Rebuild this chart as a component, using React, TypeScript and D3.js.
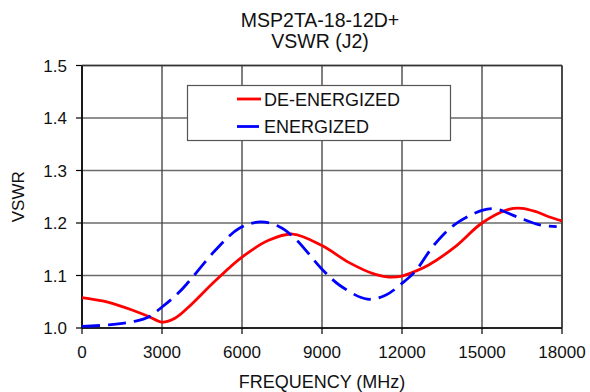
import React from "react";
import * as d3 from "d3";

const titleLines = ["MSP2TA-18-12D+", "VSWR (J2)"];
const xTicks = [0, 3000, 6000, 9000, 12000, 15000, 18000];
const yTicks = [1.0, 1.1, 1.2, 1.3, 1.4, 1.5];
const seriesNames = ["DE-ENERGIZED", "ENERGIZED"];

const deFreq = [0, 1000, 2000, 2500, 3000, 3500, 4000, 5000, 6000, 7000, 7900, 9000, 10000, 11000, 11500, 12000, 12500, 13000, 14000, 15000, 16000, 16500, 17000, 17500, 18000];
const deVswr = [1.058, 1.049, 1.032, 1.022, 1.011, 1.019, 1.04, 1.09, 1.135, 1.167, 1.179, 1.157, 1.125, 1.102, 1.097, 1.099, 1.108, 1.12, 1.155, 1.2, 1.226, 1.228, 1.222, 1.212, 1.204];

const enFreq = [0, 1000, 2000, 2500, 3000, 3600, 4000, 5000, 5900, 6700, 7400, 8000, 9000, 9700, 10700, 11400, 12000, 12500, 13200, 14000, 15000, 15500, 16300, 17200, 17800];
const enVswr = [1.003, 1.006, 1.013, 1.021, 1.04, 1.066, 1.088, 1.148, 1.19, 1.202, 1.193, 1.17, 1.112, 1.08, 1.055, 1.063, 1.085, 1.108, 1.158, 1.198, 1.224, 1.227, 1.212, 1.196, 1.193];

const W = 590;
const H = 392;
const left = 82, right = 562, top = 65.5, bottom = 328;
const font = "'Liberation Sans', Arial, sans-serif";

export default function App() {
  const x = d3.scaleLinear().domain([0, 18000]).range([left, right]);
  const y = d3.scaleLinear().domain([1.0, 1.5]).range([bottom, top]);
  const line = d3
    .line<[number, number]>()
    .x((d) => x(d[0]))
    .y((d) => y(d[1]))
    .curve(d3.curveCatmullRom.alpha(0.5));
  const de = deFreq.map((f, i) => [f, deVswr[i]] as [number, number]);
  const en = enFreq.map((f, i) => [f, enVswr[i]] as [number, number]);

  return (
    <svg width={W} height={H} style={{ position: "absolute", left: 0, top: 0, background: "#fff" }} fontFamily={font}>
      <rect x={0} y={0} width={W} height={H} fill="#fff" />
      {titleLines.map((t, i) => (
        <text key={t} x={320} y={27 + i * 21} textAnchor="middle" fontSize={19.5} fill="#111">
          {t}
        </text>
      ))}
      {/* grid */}
      {yTicks.map((v) => (
        <g key={"y" + v}>
          <line x1={left} x2={right} y1={y(v)} y2={y(v)} stroke="#6a6a6a" strokeWidth={1.4} />
          <line x1={left - 6} x2={left} y1={y(v)} y2={y(v)} stroke="#000" strokeWidth={1.2} />
          <text x={67} y={y(v)} dy="0.36em" textAnchor="end" fontSize={17} fill="#111">
            {v.toFixed(1)}
          </text>
        </g>
      ))}
      {xTicks.map((v) => (
        <g key={"x" + v}>
          <line x1={x(v)} x2={x(v)} y1={top} y2={bottom} stroke="#4a4a4a" strokeWidth={1.4} />
          <line x1={x(v)} x2={x(v)} y1={bottom} y2={bottom + 6} stroke="#000" strokeWidth={1.2} />
          <text x={x(v)} y={358} textAnchor="middle" fontSize={17} fill="#111">
            {v}
          </text>
        </g>
      ))}
      <line x1={left} x2={left} y1={top} y2={bottom} stroke="#000" strokeWidth={1.6} />
      <line x1={left} x2={right} y1={bottom} y2={bottom} stroke="#000" strokeWidth={1.6} />
      <line x1={left} x2={right} y1={top} y2={top} stroke="#333" strokeWidth={1.4} />
      <line x1={right} x2={right} y1={top} y2={bottom} stroke="#333" strokeWidth={1.4} />
      {/* series */}
      <path d={line(de) || ""} fill="none" stroke="#ff0000" strokeWidth={2.8} />
      <path d={line(en) || ""} fill="none" stroke="#0000ff" strokeWidth={2.8} strokeDasharray="18,8" />
      {/* legend */}
      <rect x={187.5} y={85.5} width={263} height={55} fill="#fff" stroke="#555" strokeWidth={1.2} />
      <line x1={237} x2={261} y1={99} y2={99} stroke="#ff0000" strokeWidth={2.8} />
      <text x={264} y={105.5} fontSize={18} fill="#111">{seriesNames[0]}</text>
      <line x1={237} x2={259} y1={126.5} y2={126.5} stroke="#0000ff" strokeWidth={2.8} />
      <text x={264} y={132.5} fontSize={18} fill="#111">{seriesNames[1]}</text>
      {/* axis labels */}
      <text x={322} y={388} textAnchor="middle" fontSize={18} fill="#111">FREQUENCY (MHz)</text>
      <text transform={`translate(24,${(top + bottom) / 2}) rotate(-90)`} textAnchor="middle" fontSize={17} fill="#111">VSWR</text>
    </svg>
  );
}
